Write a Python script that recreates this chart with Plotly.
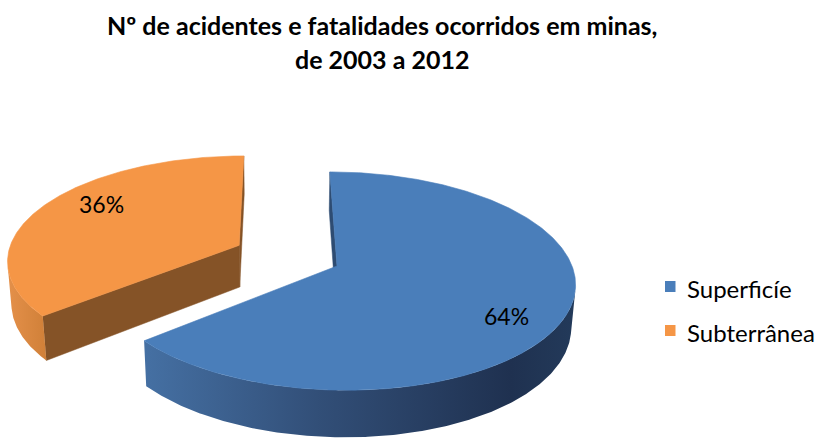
import numpy as np
import plotly.graph_objects as go

# ---- data ----
categories = ["Superficíe", "Subterrânea"]
shares = [64, 36]
explode = [0.0, 0.465]         # fraction of radius each slice is pulled out
title_lines = ["Nº de acidentes e fatalidades ocorridos em minas,", "de 2003 a 2012"]

# ---- styling ----
top_colors = ["#4A7EBA", "#F59646"]
cut_colors = ["#2E4C72", "#855327"]
wall_scales = [
    [[0.0, "#4570A3"], [0.4, "#324F78"], [0.85, "#1F3150"], [1.0, "#233A5A"]],
    [[0.0, "#E4904A"], [1.0, "#D08038"]],
]
label_nudge = [(0, -14), (10, 10)]   # (right, up) pixel nudge of each label
W, H = 818, 441

# ---- simple perspective camera for a tilted, extruded pie ----
ELEV = np.radians(27.1)
DIST = 6.45
FOCAL = 1516.0
CAM_X = -0.25                  # camera sits slightly left of the pie centre
CENTER = (337.0, 266.0)        # where the pie centre lands on screen
THICK = 0.206
C_, S_ = np.cos(ELEV), np.sin(ELEV)
CAM = np.array([CAM_X, -DIST * C_, DIST * S_])
X_OFF = CENTER[0] - FOCAL * (0.0 - CAM_X) / DIST


def project(X, Y, Z):
    X, Y, Z = np.asarray(X, float), np.asarray(Y, float), np.asarray(Z, float)
    vy = Y + DIST * C_
    vz = Z - DIST * S_
    depth = vy * C_ - vz * S_
    up = vy * S_ + vz * C_
    return X_OFF + FOCAL * (X - CAM_X) / depth, CENTER[1] - FOCAL * up / depth


def visible(point, normal):
    return float(np.dot(CAM - np.asarray(point), np.asarray(normal))) > 0


def direction(theta_deg):
    t = np.radians(theta_deg)
    return np.sin(t), np.cos(t)


fig = go.Figure()
side_traces, top_traces, labels = [], [], []

total = float(sum(shares))
start = 0.0
for i, (name, val) in enumerate(zip(categories, shares)):
    span = 360.0 * val / total
    t0, t1 = start, start + span
    mid = (t0 + t1) / 2
    mx, my = direction(mid)
    ox, oy = explode[i] * mx, explode[i] * my

    thetas = np.linspace(t0, t1, max(3, int(span * 2)))
    rx = ox + np.sin(np.radians(thetas))
    ry = oy + np.cos(np.radians(thetas))

    # top face
    tx, ty = project(np.r_[ox, rx, ox], np.r_[oy, ry, oy], np.zeros(len(rx) + 2))
    top_traces.append(go.Scatter(x=tx, y=ty, fill="toself", mode="lines",
                                 fillcolor=top_colors[i],
                                 line=dict(color=top_colors[i], width=0.6),
                                 hoverinfo="skip", showlegend=False))

    # outer curved wall: keep the runs that face the camera
    vis = [visible((x, y, 0.0), (np.sin(np.radians(t)), np.cos(np.radians(t)), 0.0))
           for x, y, t in zip(rx, ry, thetas)]
    runs, cur = [], []
    for k, v in enumerate(vis):
        if v:
            cur.append(k)
        elif cur:
            runs.append(cur)
            cur = []
    if cur:
        runs.append(cur)
    for run in runs:
        if len(run) < 2:
            continue
        px, py = rx[run], ry[run]
        ux, uy = project(px, py, np.zeros(len(run)))
        bx, by = project(px, py, np.full(len(run), -THICK))
        xs = np.r_[ux, bx[::-1], ux[0]]
        ys = np.r_[uy, by[::-1], uy[0]]
        dpt = float(np.mean(py))
        side_traces.append((dpt, go.Scatter(
            x=xs, y=ys, fill="toself", mode="lines",
            fillgradient=dict(type="horizontal", colorscale=wall_scales[i]),
            line=dict(width=0), hoverinfo="skip", showlegend=False)))

    # straight cut faces at both ends of the slice
    for t, sign in ((t0, -1), (t1, 1)):
        nx, ny = sign * np.cos(np.radians(t)), -sign * np.sin(np.radians(t))
        if not visible((ox, oy, 0.0), (nx, ny, 0.0)):
            continue
        ex, ey = direction(t)
        fx = [ox, ox + ex, ox + ex, ox, ox]
        fy = [oy, oy + ey, oy + ey, oy, oy]
        fz = [0, 0, -THICK, -THICK, 0]
        cx, cy = project(fx, fy, fz)
        side_traces.append((oy + ey / 2, go.Scatter(
            x=cx, y=cy, fill="toself", mode="lines", fillcolor=cut_colors[i],
            line=dict(color=cut_colors[i], width=0.5),
            hoverinfo="skip", showlegend=False)))

    # percentage label
    lx, ly = project(ox + 0.75 * mx, oy + 0.75 * my, 0.0)
    dx, dy = label_nudge[i]
    labels.append(dict(x=float(lx) + dx, y=float(ly) - dy,
                       text=f"{val}%", showarrow=False,
                       font=dict(family="Lato", size=23, color="#000000")))
    start = t1

# far-to-near painting order for the side faces, then the tops
for _, tr in sorted(side_traces, key=lambda p: -p[0]):
    fig.add_trace(tr)
for tr in top_traces:
    fig.add_trace(tr)

annotations = list(labels)
for k, line in enumerate(title_lines):
    annotations.append(dict(x=382, y=25 + 34 * k, text="<b>" + line + "</b>",
                            showarrow=False, xanchor="center", yanchor="middle",
                            font=dict(family="Lato", size=25, color="#000000")))

# legend
shapes = []
for i, name in enumerate(categories):
    yc = 286.5 + 44 * i
    shapes.append(dict(type="rect", xref="x", yref="y", x0=665, x1=675.5,
                       y0=yc - 5.5, y1=yc + 5.5, fillcolor=top_colors[i],
                       line=dict(width=0)))
    annotations.append(dict(x=685, y=yc + 1.5, text=name, showarrow=False,
                            xanchor="left", yanchor="middle",
                            font=dict(family="Lato", size=24, color="#000000")))

fig.update_layout(
    width=W, height=H, margin=dict(l=0, r=0, t=0, b=0),
    paper_bgcolor="white", plot_bgcolor="white",
    xaxis=dict(range=[0, W], visible=False, fixedrange=True),
    yaxis=dict(range=[H, 0], visible=False, fixedrange=True),
    annotations=annotations, shapes=shapes, showlegend=False,
)

fig.write_html("out.html")
